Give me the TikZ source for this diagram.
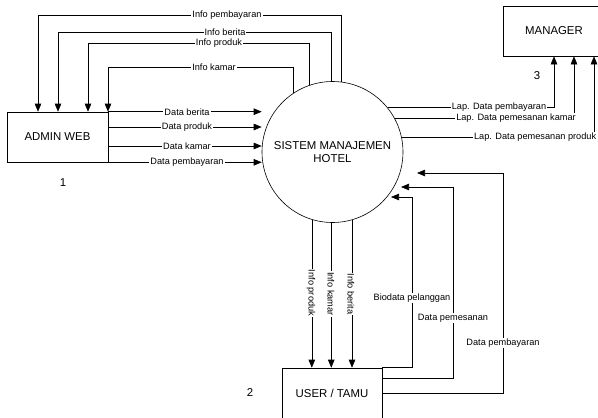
\documentclass[tikz,border=0pt]{standalone}
\usepackage{fontspec}
\setmainfont{Liberation Sans}
\usepackage{tikz}
\usetikzlibrary{arrows.meta}

\begin{document}
\begin{tikzpicture}[x=1pt, y=-1pt, line width=0.6pt,
  every node/.style={inner sep=1pt},
  entity/.style={draw, minimum width=101pt, minimum height=50pt, font=\fontsize{11.4}{13}\selectfont},
  flow/.style={-{Triangle[length=8pt,width=6.5pt]}},
  lbl/.style={fill=white, font=\fontsize{9.2}{10}\selectfont},
  num/.style={font=\fontsize{11.4}{13}\selectfont}]
  \useasboundingbox (0,0) rectangle (598,418);
  % entities and process
  \node[entity] (admin) at (57.5,137) {ADMIN WEB};
  \node[entity, minimum width=102pt] (manager) at (554,31) {MANAGER};
  \node[entity, minimum width=100pt] (user) at (332,393) {USER / TAMU};
  \node[draw, circle, minimum size=141pt, align=center, font=\fontsize{11.4}{12.5}\selectfont] (sys) at (332.5,152) {SISTEM MANAJEMEN\\HOTEL};
  \node[num] (n1) at (63,183) {1};
  \node[num] (n2) at (250,393) {2};
  \node[num] (n3) at (537,76) {3};
  % bends of the info flows to admin
  \coordinate (iP) at (38,15);
  \coordinate (iB) at (58,32);
  \coordinate (iR) at (88,43);
  \coordinate (iK) at (108,67);
  \draw[flow] (sys.83.1) |- (iP) -- (iP |- admin.north);
  \draw[flow] (sys.91.2) |- (iB) -- (iB |- admin.north);
  \draw[flow] (sys.109.5) |- (iR) -- (iR |- admin.north);
  \draw[flow] (sys.124.1) |- (iK) -- (iK |- admin.north);
  \node[lbl] (liP) at (227,15) {Info pembayaran};
  \node[lbl] (liB) at (225,32) {Info berita};
  \node[lbl] (liR) at (219,43) {Info produk};
  \node[lbl] (liK) at (214,67) {Info kamar};
  % data from admin
  \draw[flow] (admin.north east) -- (admin.north east -| sys.west);
  \draw[flow] ([yshift=10pt]admin.east) -- ([yshift=10pt]admin.east -| sys.west);
  \draw[flow] ([yshift=-9pt]admin.east) -- ([yshift=-9pt]admin.east -| sys.west);
  \draw[flow] (admin.south east) -- (admin.south east -| sys.west);
  \node[lbl] (ldB) at (187,112) {Data berita};
  \node[lbl] (ldR) at (187,127) {Data produk};
  \node[lbl] (ldK) at (187,146) {Data kamar};
  \node[lbl] (ldP) at (187,162) {Data pembayaran};
  % reports to manager
  \draw[flow] (sys.39.7) -| (manager.south);
  \draw[flow] (sys.28.8) -| ([xshift=20pt]manager.south);
  \draw[flow] (sys.12.3) -| ([xshift=40pt]manager.south);
  \node[lbl] (lrP) at (499,107) {Lap. Data pembayaran};
  \node[lbl] (lrK) at (516,118) {Lap. Data pemesanan kamar};
  \node[lbl, anchor=east] (lrR) at (597.5,137) {Lap. Data pemesanan produk};
  % info to user
  \draw[flow] (sys.-107.8) -- (sys.-107.8 |- user.north);
  \draw[flow] (sys.-91.2) -- (sys.-91.2 |- user.north);
  \draw[flow] (sys.-74.8) -- (sys.-74.8 |- user.north);
  \node[lbl, rotate=-90] (luR) at (311,293) {Info produk};
  \node[lbl, rotate=-90] (luK) at (331,294) {Info kamar};
  \node[lbl, rotate=-90] (luB) at (351,294) {Info berita};
  % data from user
  \coordinate (uB) at (412,197);
  \coordinate (uBe) at (391,197);
  \coordinate (uM) at (453,187);
  \coordinate (uMe) at (401,187);
  \coordinate (uP) at (503,173);
  \coordinate (uPe) at (417,173);
  \draw[flow] (user.north east) -| (uB) -- (uBe);
  \draw[flow] ([yshift=15pt]user.east) -| (uM) -- (uMe);
  \draw[flow] (user.east) -| (uP) -- (uPe);
  \node[lbl] (lbB) at (412,298) {Biodata pelanggan};
  \node[lbl] (lbM) at (453,318) {Data pemesanan};
  \node[lbl] (lbP) at (503,343) {Data pembayaran};
\end{tikzpicture}
\end{document}
